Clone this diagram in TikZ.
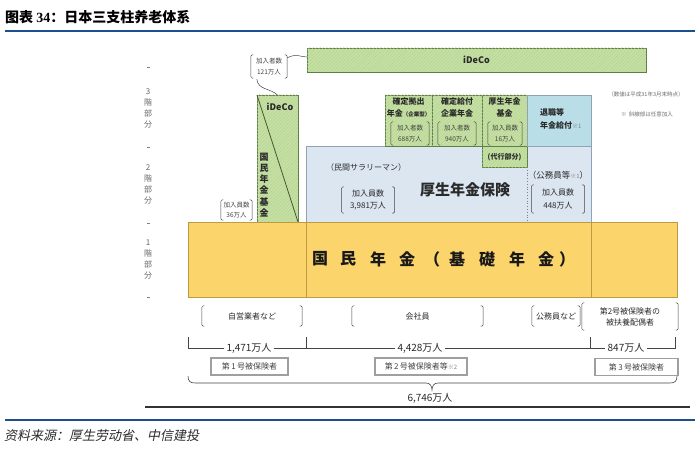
\documentclass[tikz,border=0pt]{standalone}
\usepackage{fontspec}
\setmainfont{Noto Sans CJK JP}
\newfontfamily\scfont{Noto Sans CJK SC}
\newfontfamily\scitfont[FakeSlant=0.2]{Noto Sans CJK SC}
\newfontfamily\tnrfont{Liberation Serif}
\usetikzlibrary{calc,patterns.meta}
\definecolor{grnf}{HTML}{C6E0A4}
\definecolor{grnh}{HTML}{B0D28E}
\definecolor{grnb}{HTML}{5E7F48}
\definecolor{bluf}{HTML}{DCE6F1}
\definecolor{blub}{HTML}{8FA3B8}
\definecolor{cyaf}{HTML}{B9DEE8}
\definecolor{yelf}{HTML}{FCD46C}
\definecolor{yelb}{HTML}{BE9A40}
\definecolor{txt}{HTML}{2A2A2A}
\definecolor{txtg}{HTML}{444444}
\definecolor{titblue}{HTML}{1F4E8C}
\newcommand\brkpair[1]{%
  \draw[brk] ($(#1.north west)+(2.5,0)$) -| (#1.south west) -- ++(2.5,0);
  \draw[brk] ($(#1.north east)+(-2.5,0)$) -| (#1.south east) -- ++(-2.5,0);}
\newcommand\fs[2]{\fontsize{#1}{#2}\selectfont}
\begin{document}
\begin{tikzpicture}[x=1pt,y=-1pt,
  box/.style 2 args={minimum width=#1pt, minimum height=#2pt, anchor=north west, inner sep=0pt, outer sep=0pt},
  grnbox/.style={fill=grnf, draw=grnb, line width=.6pt,
     postaction={pattern={Lines[angle=45,distance=2.4pt,line width=.35pt]}, pattern color=grnh}},
  blubox/.style={fill=bluf, draw=blub, line width=.6pt},
  cyabox/.style={fill=cyaf, draw=blub, line width=.6pt},
  yelbox/.style={fill=yelf, draw=yelb, line width=.6pt},
  brk/.style={draw=txtg, line width=.5pt, rounded corners=1.5pt},
  conn/.style={draw=txtg, line width=.5pt},
  bt/.style={inner sep=0pt, align=center, text=txtg, font=\fs{6.5}{10.5}},
  bm/.style={inner sep=0pt, align=center, text=txt, font=\fs{8}{12.5}},
  hd/.style={inner sep=0pt, align=center, text=txt, font=\bfseries\fs{8}{9}},
  cnt/.style={inner sep=2pt, text=txt, font=\fs{10}{11}},
  cline/.style={draw=txtg, line width=.5pt},
  cat/.style={draw=gray!75, line width=1.1pt, fill=white, inner sep=0pt, text=txtg, font=\fs{8}{9}},
  tier/.style={inner sep=0pt, align=center, text=gray!80!black, font=\fs{8}{11}},
  note/.style={inner sep=0pt, text=gray!85!black, font=\fs{5.5}{6}}]
\useasboundingbox (0,0) rectangle (700,449);
% title and frame lines
\node[anchor=west, inner sep=0pt] (title) at (5,17) {\scfont\bfseries\fs{14}{16}图表 {\tnrfont\bfseries 34}：日本三支柱养老体系};
\draw[titblue, line width=2pt] (5,31.5) -- (695,31.5);
\draw[black!80, line width=2.5pt] (145,407) -- (690,407);
\draw[titblue, line width=1.2pt] (5,420) -- (695,420);
\node[anchor=west, inner sep=0pt, text=txt] (src) at (4,436) {\scitfont\fs{13}{15}资料来源：厚生劳动省、中信建投};
% tier labels
\foreach \y/\n in {67/a,147/b,223/c,297/d} \draw[gray] (146.5,\y) -- (149.5,\y);
\node[tier] (L3) at (148,108) {3\\階\\部\\分};
\node[tier] (L2) at (148,184) {2\\階\\部\\分};
\node[tier] (L1) at (148,259) {1\\階\\部\\分};
% 2nd tier blue box
\node[blubox, box={285}{76}] (kosei) at (306,146) {};
% top iDeCo bar
\node[grnbox, box={339}{24}, font=\bfseries\fs{9}{10}, text=txt] (idecobar) at (307,48) {iDeCo};
% tall iDeCo / kokumin nenkin kikin
\node[grnbox, box={41}{127}] (kokumin) at (257,95) {};
\draw[grnb!70!black, line width=.8pt] (kokumin.north west) -- (kokumin.south east);
\node[inner sep=0pt, text=txt, font=\bfseries\fs{9}{10}] (idecot) at (280,107) {iDeCo};
\node[inner sep=0pt, align=center, text=txt, font=\bfseries\fs{9}{11.2}] (kkv) at (264,185) {国\\民\\年\\金\\基\\金};
% 3rd tier boxes
\node[grnbox, box={47}{51}] (dc) at (385,95) {};
\node[grnbox, box={50}{51}] (db) at (432,95) {};
\node[grnbox, box={45}{72}] (kikin) at (482,95) {};
\node[cyabox, box={64}{51}] (taishoku) at (527,95) {};
\draw[grnb, line width=.5pt] (kikin.west |- kosei.north) -- (kikin.east |- kosei.north);
\draw[gray, dotted, line width=.8pt] (kikin.south east) -- (kikin.south east |- kosei.south);
% 3rd tier texts
\node[hd] (dct1) at (408.5,101) {確定拠出};
\node[hd] (dct2) at (408.5,113) {年金{\fs{5.5}{6}（企業型）}};
\node[bt, minimum width=38pt, minimum height=23pt] (dcb) at (410,133.5) {加入者数\\688万人};
\brkpair{dcb}
\node[hd] (dbt1) at (457,101) {確定給付};
\node[hd] (dbt2) at (457,113) {企業年金};
\node[bt, minimum width=38pt, minimum height=23pt] (dbb) at (457,133.5) {加入者数\\940万人};
\brkpair{dbb}
\node[hd] (kkt1) at (504.5,101) {厚生年金};
\node[hd] (kkt2) at (504.5,113) {基金};
\node[bt, minimum width=34pt, minimum height=23pt] (kkb) at (505,133.5) {加入員数\\16万人};
\brkpair{kkb}
\node[hd, font=\bfseries\fs{7}{8}] (daiko) at (504.5,157) {(代行部分)};
\node[hd, anchor=west] (tst1) at (540,112) {退職等};
\node[hd, anchor=west] (tst2) at (540,125) {年金給付{\mdseries\color{gray}\fs{6}{7}※1}};
% 2nd tier texts
\node[bm] (minkan) at (366,167) {（民間サラリーマン）};
\node[bm, minimum width=53pt, minimum height=26pt] (mkb) at (368,200) {加入員数\\3,981万人};
\brkpair{mkb}
\node[inner sep=0pt, text=txt, font=\bfseries\fs{15}{16}] (kht) at (465,190) {厚生年金保険};
\node[bm, font=\fs{8.5}{10}] (komu) at (558,175) {（公務員等{\color{gray}\fs{6}{7}※1}）};
\node[bm, minimum width=53pt, minimum height=28pt] (kmb) at (558,199) {加入員数\\448万人};
\brkpair{kmb}
% brackets near iDeCo
\node[bt, minimum width=36pt, minimum height=23pt] (n121) at (269,66.5) {加入者数\\121万人};
\brkpair{n121}
\node[bt, minimum width=31pt, minimum height=20pt] (n36) at (236.5,210) {加入員数\\36万人};
\brkpair{n36}
\draw[conn] ($(n121.north east)+(0,3)$) .. controls (297,53) and (300,57) .. ($(idecobar.west)+(0,-3)$);
\draw[conn] ($(n121.south west)+(6,1)$) .. controls (258,90) and (270,88) .. (kokumin.north);
% 1st tier yellow
\node[yelbox, box={489}{75}] (kiso) at (188,222) {};
\draw[yelb, line width=.5pt] (kosei.south west) -- (kosei.south west |- kiso.south);
\draw[yelb, line width=.5pt] (kosei.south east) -- (kosei.south east |- kiso.south);
\foreach \x/\c [count=\i] in {320/国,348/民,378/年,407/金,432/（,457/基,487/礎,517/年,546/金,567/）}
  \node[inner sep=0pt, text=black!90, font=\bfseries\fs{16}{17}] (yt\i) at (\x,259) {\c};
% categories
\node[bm, minimum width=100pt, minimum height=20pt] (jiei) at (252,316) {自営業者など};
\brkpair{jiei}
\node[bm, minimum width=131pt, minimum height=20pt] (kaisha) at (417.5,316) {会社員};
\brkpair{kaisha}
\node[bm, minimum width=48pt, minimum height=20pt] (komuin) at (556,316) {公務員など};
\brkpair{komuin}
\node[bm, font=\fs{8}{11}, minimum width=96pt, minimum height=27pt] (haigu) at (630,316.5) {第2号被保険者の\\被扶養配偶者};
\brkpair{haigu}
% counts
\coordinate (t0) at (188,337);
\coordinate (t1) at (306,337);
\coordinate (t2) at (590,337);
\coordinate (t3) at (675,337);
\node[cnt] (c1) at (249,348) {1,471万人};
\node[cnt] (c2) at (420,348) {4,428万人};
\node[cnt] (c3) at (626,348) {847万人};
\draw[cline] (t0) |- (c1.west);
\draw[cline] (c1.east) -| (t1);
\draw[cline] (t1) |- (c2.west);
\draw[cline] (c2.east) -| (t2);
\draw[cline] (t2) |- (c3.west);
\draw[cline] (c3.east) -| (t3);
\node[cat, minimum width=77pt, minimum height=17pt] (k1) at (249.5,366.5) {第\,1\,号被保険者};
\node[cat, minimum width=92pt, minimum height=17pt] (k2) at (421,366.5) {第\,2\,号被保険者等{\color{gray}\fs{6}{7}※2}};
\node[cat, minimum width=83pt, minimum height=17pt] (k3) at (636.5,367) {第\,3\,号被保険者};
% total brace
\coordinate (bl) at (188,376);
\coordinate (br) at (677,376);
\coordinate (tip) at (432,390);
\draw[cline, line width=.6pt] (bl) .. controls (188,381) and (190,383) .. (195,383) -- (426,383)
  .. controls (430,383) and (432,386) .. (tip) .. controls (432,386) and (434,383) .. (438,383)
  -- (670,383) .. controls (675,383) and (677,381) .. (br);
\node[cnt] (tot) at (430,398) {6,746万人};
% notes
\node[note] (note1) at (646,94) {（数値は平成31年3月末時点）};
\node[note] (note2) at (647,114) {※\ \ 斜線部は任意加入};
\end{tikzpicture}
\end{document}
